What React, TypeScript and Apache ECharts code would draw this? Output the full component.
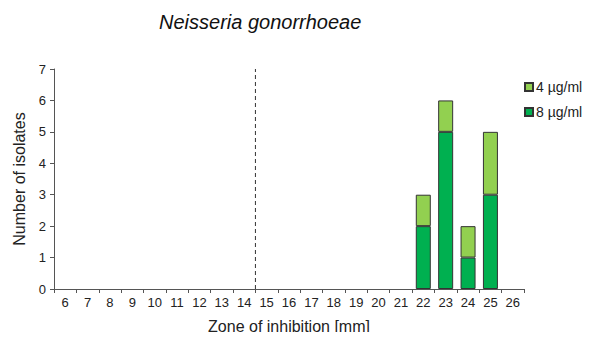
import React, { useEffect, useRef } from "react";
import * as echarts from "echarts";

const categories = ["6","7","8","9","10","11","12","13","14","15","16","17","18","19","20","21","22","23","24","25","26"];
const series8 = [0,0,0,0,0,0,0,0,0,0,0,0,0,0,0,0,2,5,1,3,0];
const series4 = [0,0,0,0,0,0,0,0,0,0,0,0,0,0,0,0,1,1,1,2,0];
const yTicks = [0, 7, 1];
const breakpoint = 14.5;

const FONT = "'Liberation Sans', Arial, sans-serif";

export default function App() {
  const ref = useRef<HTMLDivElement>(null);
  useEffect(() => {
    if (!ref.current) return;
    const chart = echarts.init(ref.current, undefined, { renderer: "svg" });
    const toNull = (a: number[]) => a.map((v) => (v === 0 ? null : v));
    chart.setOption({
      animation: false,
      textStyle: { fontFamily: FONT },
      title: {
        text: "Neisseria gonorrhoeae",
        left: 154,
        top: 7,
        textStyle: { fontFamily: FONT, fontStyle: "italic", fontWeight: "normal", fontSize: 20, color: "#111" },
      },
      legend: {
        orient: "vertical",
        left: 519,
        top: 75,
        itemWidth: 8,
        itemHeight: 8,
        itemGap: 11,
        icon: "rect",
        data: ["4 µg/ml", "8 µg/ml"],
        textStyle: { fontFamily: FONT, fontSize: 14, color: "#222", padding: [0, 0, 0, -2] },
      },
      grid: { left: 54, right: 67, top: 69, bottom: 51, containLabel: false },
      xAxis: [
        {
          type: "category",
          data: categories,
          boundaryGap: true,
          name: "Zone of inhibition [mm]",
          nameLocation: "middle",
          nameGap: 29,
          nameTextStyle: { fontFamily: FONT, fontSize: 16, color: "#222" },
          axisLine: { lineStyle: { color: "#555", width: 1 } },
          axisTick: { show: true, length: 4, alignWithLabel: false, lineStyle: { color: "#555" } },
          axisLabel: { fontFamily: FONT, fontSize: 13, color: "#222", margin: 7, interval: 0 },
          splitLine: { show: false },
        },
        {
          type: "value",
          min: 5.5,
          max: 26.5,
          show: false,
        },
      ],
      yAxis: {
        type: "value",
        min: yTicks[0],
        max: yTicks[1],
        interval: yTicks[2],
        name: "Number of isolates",
        nameLocation: "middle",
        nameGap: 27,
        nameTextStyle: { fontFamily: FONT, fontSize: 16, color: "#222" },
        axisLine: { show: true, lineStyle: { color: "#555", width: 1 } },
        axisTick: { show: true, length: 4, lineStyle: { color: "#555" } },
        axisLabel: { fontFamily: FONT, fontSize: 13, color: "#222", margin: 8 },
        splitLine: { show: false },
      },
      series: [
        {
          name: "8 µg/ml",
          type: "bar",
          stack: "total",
          data: toNull(series8),
          barWidth: 15,
          itemStyle: { color: "#00b050", borderColor: "#333", borderWidth: 1 },
        },
        {
          name: "4 µg/ml",
          type: "bar",
          stack: "total",
          data: toNull(series4),
          barWidth: 15,
          itemStyle: { color: "#92d050", borderColor: "#333", borderWidth: 1 },
        },
        {
          name: "breakpoint",
          type: "line",
          xAxisIndex: 1,
          data: [[breakpoint, yTicks[0]], [breakpoint, yTicks[1]]],
          symbol: "none",
          lineStyle: { color: "#333", width: 1, type: [4, 3] },
          silent: true,
        },
      ],
    });
    return () => chart.dispose();
  }, []);
  return <div ref={ref} style={{ width: 591, height: 340, margin: -8 }} />;
}
